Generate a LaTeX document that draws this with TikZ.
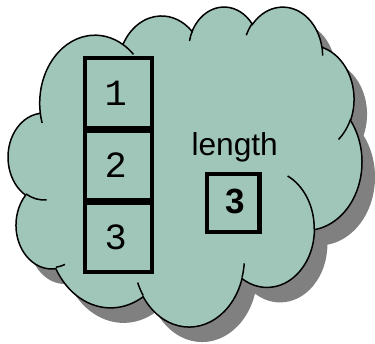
\documentclass[tikz,border=0pt]{standalone}
\usepackage{fontspec}
\setsansfont{Liberation Sans}
\setmonofont{Liberation Mono}
\usetikzlibrary{positioning}

\definecolor{cloudfill}{RGB}{160,198,186}
\definecolor{cloudshade}{RGB}{128,128,128}

% one puff of the cloud: x radius, y radius, start angle, sweep (angles as seen)
\newcommand\puff[4]{arc[x radius=#1, y radius=#2,
  start angle={atan2(#1*sin(#3),#2*cos(#3))},
  delta angle={mod(atan2(#1*sin(#3+#4),#2*cos(#3+#4))-atan2(#1*sin(#3),#2*cos(#3))+720,360)}]}

\newcommand\cloudpath{(39.00,143.70)
  \puff{67.53}{91.90}{-190.487}{123.781}
  \puff{53.33}{72.67}{-144.102}{89.945}
  \puff{43.65}{59.45}{-145.808}{99.723}
  \puff{48.57}{65.95}{-130.986}{117.242}
  \puff{53.33}{72.73}{-78.709}{109.027}
  \puff{67.75}{92.20}{-46.267}{130.269}
  \puff{57.85}{78.67}{0.625}{114.033}
  \puff{67.52}{92.15}{22.452}{115.173}
  \puff{77.20}{105.43}{66.243}{75.711}
  \puff{43.60}{59.18}{-274.942}{146.736}
  \puff{43.45}{59.45}{-246.829}{152.519}
  -- cycle}

\begin{document}
\begin{tikzpicture}[x=1pt,y=-1pt,
  cell/.style={draw=black,line width=4pt,minimum width=66.7pt,minimum height=69.3pt,inner sep=0pt},
  digit/.style={font=\ttfamily\fontsize{37}{37}\selectfont,inner sep=0pt},
  word/.style={font=\sffamily\fontsize{31.7}{31.7}\selectfont,inner sep=0pt},
  lendigit/.style={font=\sffamily\bfseries\fontsize{35}{35}\selectfont,inner sep=0pt}]
\useasboundingbox (0,0) rectangle (375,344);

% the cloud, its shadow first
\begin{scope}[x=0.8184pt,y=-0.7405pt,shift={(21.3pt,-21pt)}]
\path[fill=cloudshade] \cloudpath;
\end{scope}
\begin{scope}[x=0.8184pt,y=-0.7405pt,shift={(8.3pt,-6pt)}]
\path[fill=cloudfill,draw=black,line width=1.5pt] \cloudpath;
\draw[line width=1.5pt]
  (46.93,261.77) \puff{43.45}{59.45}{86.742}{26.430}
  (69.28,348.99) \puff{43.60}{59.18}{73.611}{11.448}
  (164.78,390.90) \puff{67.52}{92.15}{137.624}{14.081}
  (288.27,347.51) \puff{67.52}{92.15}{6.453}{15.998}
  (341.29,229.54) \puff{57.85}{78.67}{-70.292}{70.917}
  (417.98,153.54) \puff{53.33}{72.73}{30.318}{27.752}
  (383.24,54.26) \puff{48.57}{65.95}{-13.744}{14.859}
  (290.78,39.52) \puff{48.57}{65.95}{-149.182}{18.195}
  (221.41,47.20) \puff{43.65}{59.45}{-163.494}{17.686}
  (140.00,51.92) \puff{67.53}{91.90}{-66.707}{12.319}
  (41.27,157.89) \puff{67.53}{91.90}{157.654}{11.858};
\end{scope}

% the array
\node[cell] (c1) at (118.65,92.95) {};
\node[cell] (c2) at (118.65,165.25) {};
\node[cell] (c3) at (118.65,237.55) {};
\node[digit] (d1) at ([xshift=-3pt]c1.center) {1};
\node[digit] (d2) at ([xshift=-3pt]c2.center) {2};
\node[digit] (d3) at ([xshift=-3pt]c3.center) {3};

% its length
\node[word,anchor=base] (lenlabel) at (234.7,156) {length};
\node[cell,minimum width=52.5pt,minimum height=58.2pt,line width=4.3pt] (lenbox) at (233.25,202.9) {};
\node[lendigit] (lenval) at ([xshift=1.75pt,yshift=1.6pt]lenbox.center) {3};
\end{tikzpicture}
\end{document}
